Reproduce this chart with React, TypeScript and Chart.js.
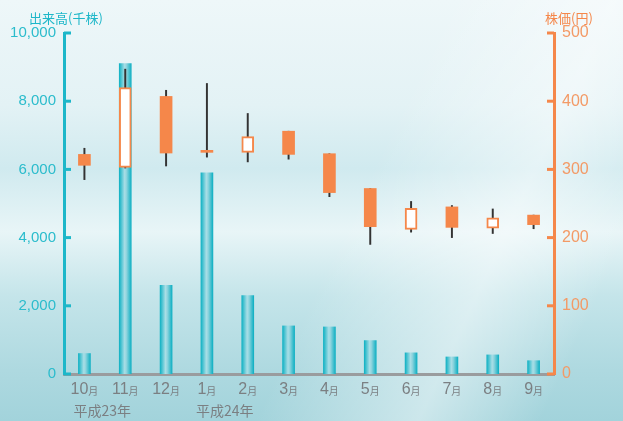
import { useEffect, useRef } from "react";
import { Chart, registerables } from "chart.js";
import type { Plugin, ScriptableContext } from "chart.js";

Chart.register(...registerables);

// 月次 出来高 (千株) と 株価 (円) — 平成23年10月〜平成24年9月
const months = ["10", "11", "12", "1", "2", "3", "4", "5", "6", "7", "8", "9"];
const volume = [600, 9100, 2600, 5900, 2300, 1410, 1380, 980, 620, 500, 560, 390];
const priceOpen = [322, 303, 407, 328, 325, 356, 323, 272, 212, 245, 214, 233];
const priceClose = [306, 420, 324, 325, 348, 322, 266, 216, 243, 215, 229, 219];
const priceHigh = [331, 447, 416, 426, 382, 356, 323, 272, 253, 247, 242, 233];
const priceLow = [285, 302, 305, 318, 311, 315, 260, 190, 208, 200, 206, 213];
const yearLabels = [
  { index: 0, text: "平成23年" },
  { index: 3, text: "平成24年" },
];

const CYAN = "#1db7c9";
const ORANGE = "#f5874a";
const GRAY = "#7b7f82";
const FONT = "'Liberation Sans', Arial, sans-serif";
const CJK = "'Noto Sans CJK JP', sans-serif";

function barGradient(ctx: ScriptableContext<"bar">) {
  const chart = ctx.chart;
  const x = chart.scales.x;
  if (!chart.chartArea || !x) return CYAN;
  const cx = x.getPixelForValue(ctx.dataIndex);
  const g = chart.ctx.createLinearGradient(cx - 6, 0, cx + 6, 0);
  g.addColorStop(0, "#12b2c4");
  g.addColorStop(0.45, "#a9dee6");
  g.addColorStop(0.6, "#8fd4de");
  g.addColorStop(1, "#10b0c3");
  return g;
}

// inward tick marks, month labels, year labels and axis titles
const decorations: Plugin = {
  id: "decorations",
  afterDraw(chart) {
    const { ctx, chartArea } = chart;
    const x = chart.scales.x;
    const yl = chart.scales.y;
    const yr = chart.scales.y1;
    ctx.save();
    ctx.lineWidth = 3;
    ctx.strokeStyle = CYAN;
    yl.ticks.forEach((t) => {
      const py = yl.getPixelForValue(t.value);
      ctx.beginPath();
      ctx.moveTo(chartArea.left, py);
      ctx.lineTo(chartArea.left + 7, py);
      ctx.stroke();
    });
    ctx.strokeStyle = ORANGE;
    yr.ticks.forEach((t) => {
      const py = yr.getPixelForValue(t.value);
      ctx.beginPath();
      ctx.moveTo(chartArea.right, py);
      ctx.lineTo(chartArea.right - 7, py);
      ctx.stroke();
    });

    ctx.fillStyle = GRAY;
    ctx.textBaseline = "alphabetic";
    const ly = chartArea.bottom + 20;
    months.forEach((m, i) => {
      const px = x.getPixelForValue(i);
      ctx.font = `16px ${FONT}`;
      const w1 = ctx.measureText(m).width;
      ctx.font = `10px ${CJK}`;
      const w2 = ctx.measureText("月").width;
      const start = px - (w1 + w2) / 2;
      ctx.textAlign = "left";
      ctx.font = `16px ${FONT}`;
      ctx.fillText(m, start, ly);
      ctx.font = `10px ${CJK}`;
      ctx.fillText("月", start + w1, ly + 1);
    });
    ctx.font = `14px ${CJK}`;
    yearLabels.forEach((y) => {
      ctx.fillText(y.text, x.getPixelForValue(y.index) - 11, chartArea.bottom + 42);
    });

    ctx.font = `13px ${CJK}`;
    ctx.fillStyle = CYAN;
    ctx.textAlign = "left";
    ctx.fillText("出来高(千株)", chartArea.left - 35, chartArea.top - 10);
    ctx.fillStyle = ORANGE;
    ctx.fillText("株価(円)", chartArea.right - 9, chartArea.top - 10);
    ctx.restore();
  },
};

function StockChart() {
  const canvasRef = useRef<HTMLCanvasElement>(null);

  useEffect(() => {
    if (!canvasRef.current) return;
    const bullish = priceOpen.map((o, i) => priceClose[i] > o);
    const chart = new Chart(canvasRef.current, {
      type: "bar",
      data: {
        labels: months.map((m) => m + "月"),
        datasets: [
          {
            label: "株価",
            data: priceOpen.map((o, i) => [o, priceClose[i]] as [number, number]),
            yAxisID: "y1",
            backgroundColor: bullish.map((b) => (b ? "#ffffff" : ORANGE)),
            borderColor: ORANGE,
            borderWidth: bullish.map((b) => (b ? 2 : 0)),
            borderSkipped: false,
            barThickness: 12,
            grouped: false,
            order: 1,
          },
          {
            label: "高値・安値",
            data: priceLow.map((l, i) => [l, priceHigh[i]] as [number, number]),
            yAxisID: "y1",
            backgroundColor: "#333333",
            borderWidth: 0,
            barThickness: 1.3,
            grouped: false,
            order: 2,
          },
          {
            label: "出来高",
            data: volume,
            yAxisID: "y",
            backgroundColor: barGradient,
            borderWidth: 0,
            barThickness: 12,
            grouped: false,
            order: 3,
          },
        ],
      },
      options: {
        animation: false,
        responsive: false,
        layout: { padding: { top: 33, left: 0, right: 0, bottom: 0 } },
        plugins: { legend: { display: false }, tooltip: { enabled: false } },
        scales: {
          x: {
            offset: true,
            grid: { display: false },
            border: { color: "#9a9c9e", width: 3 },
            ticks: { display: false },
            afterFit: (s) => {
              s.height = 47;
            },
          },
          y: {
            position: "left",
            min: 0,
            max: 10000,
            grid: { display: false },
            border: { color: CYAN, width: 3 },
            ticks: {
              stepSize: 2000,
              color: "#2bbccc",
              padding: 0,
              font: { family: FONT, size: 15 },
              callback: (v) => Number(v).toLocaleString("en-US"),
            },
            afterFit: (s) => {
              s.width = 64;
            },
          },
          y1: {
            position: "right",
            min: 0,
            max: 500,
            grid: { display: false },
            border: { color: ORANGE, width: 3 },
            ticks: {
              stepSize: 100,
              color: "#f39a66",
              padding: 0,
              font: { family: FONT, size: 16 },
            },
            afterFit: (s) => {
              s.width = 69;
            },
          },
        },
      },
      plugins: [decorations],
    });
    return () => chart.destroy();
  }, []);

  return <canvas ref={canvasRef} width={623} height={421} />;
}

export default function App() {
  useEffect(() => {
    document.body.style.margin = "0";
  }, []);
  return (
    <div
      style={{
        width: 623,
        height: 421,
        position: "relative",
        overflow: "hidden",
        background:
          "linear-gradient(180deg, #eef7f9 0%, #e3f2f5 25%, #d0eaef 40%, #e8f5f7 55%, #c5e5ea 70%, #aed9e0 88%, #a2d3db 100%)",
      }}
    >
      <div
        style={{
          position: "absolute",
          inset: 0,
          background:
            "linear-gradient(115deg, rgba(255,255,255,0) 55%, rgba(255,255,255,0.45) 75%, rgba(255,255,255,0) 90%)",
        }}
      />
      <div style={{ position: "absolute", left: 0, top: 0 }}>
        <StockChart />
      </div>
    </div>
  );
}
